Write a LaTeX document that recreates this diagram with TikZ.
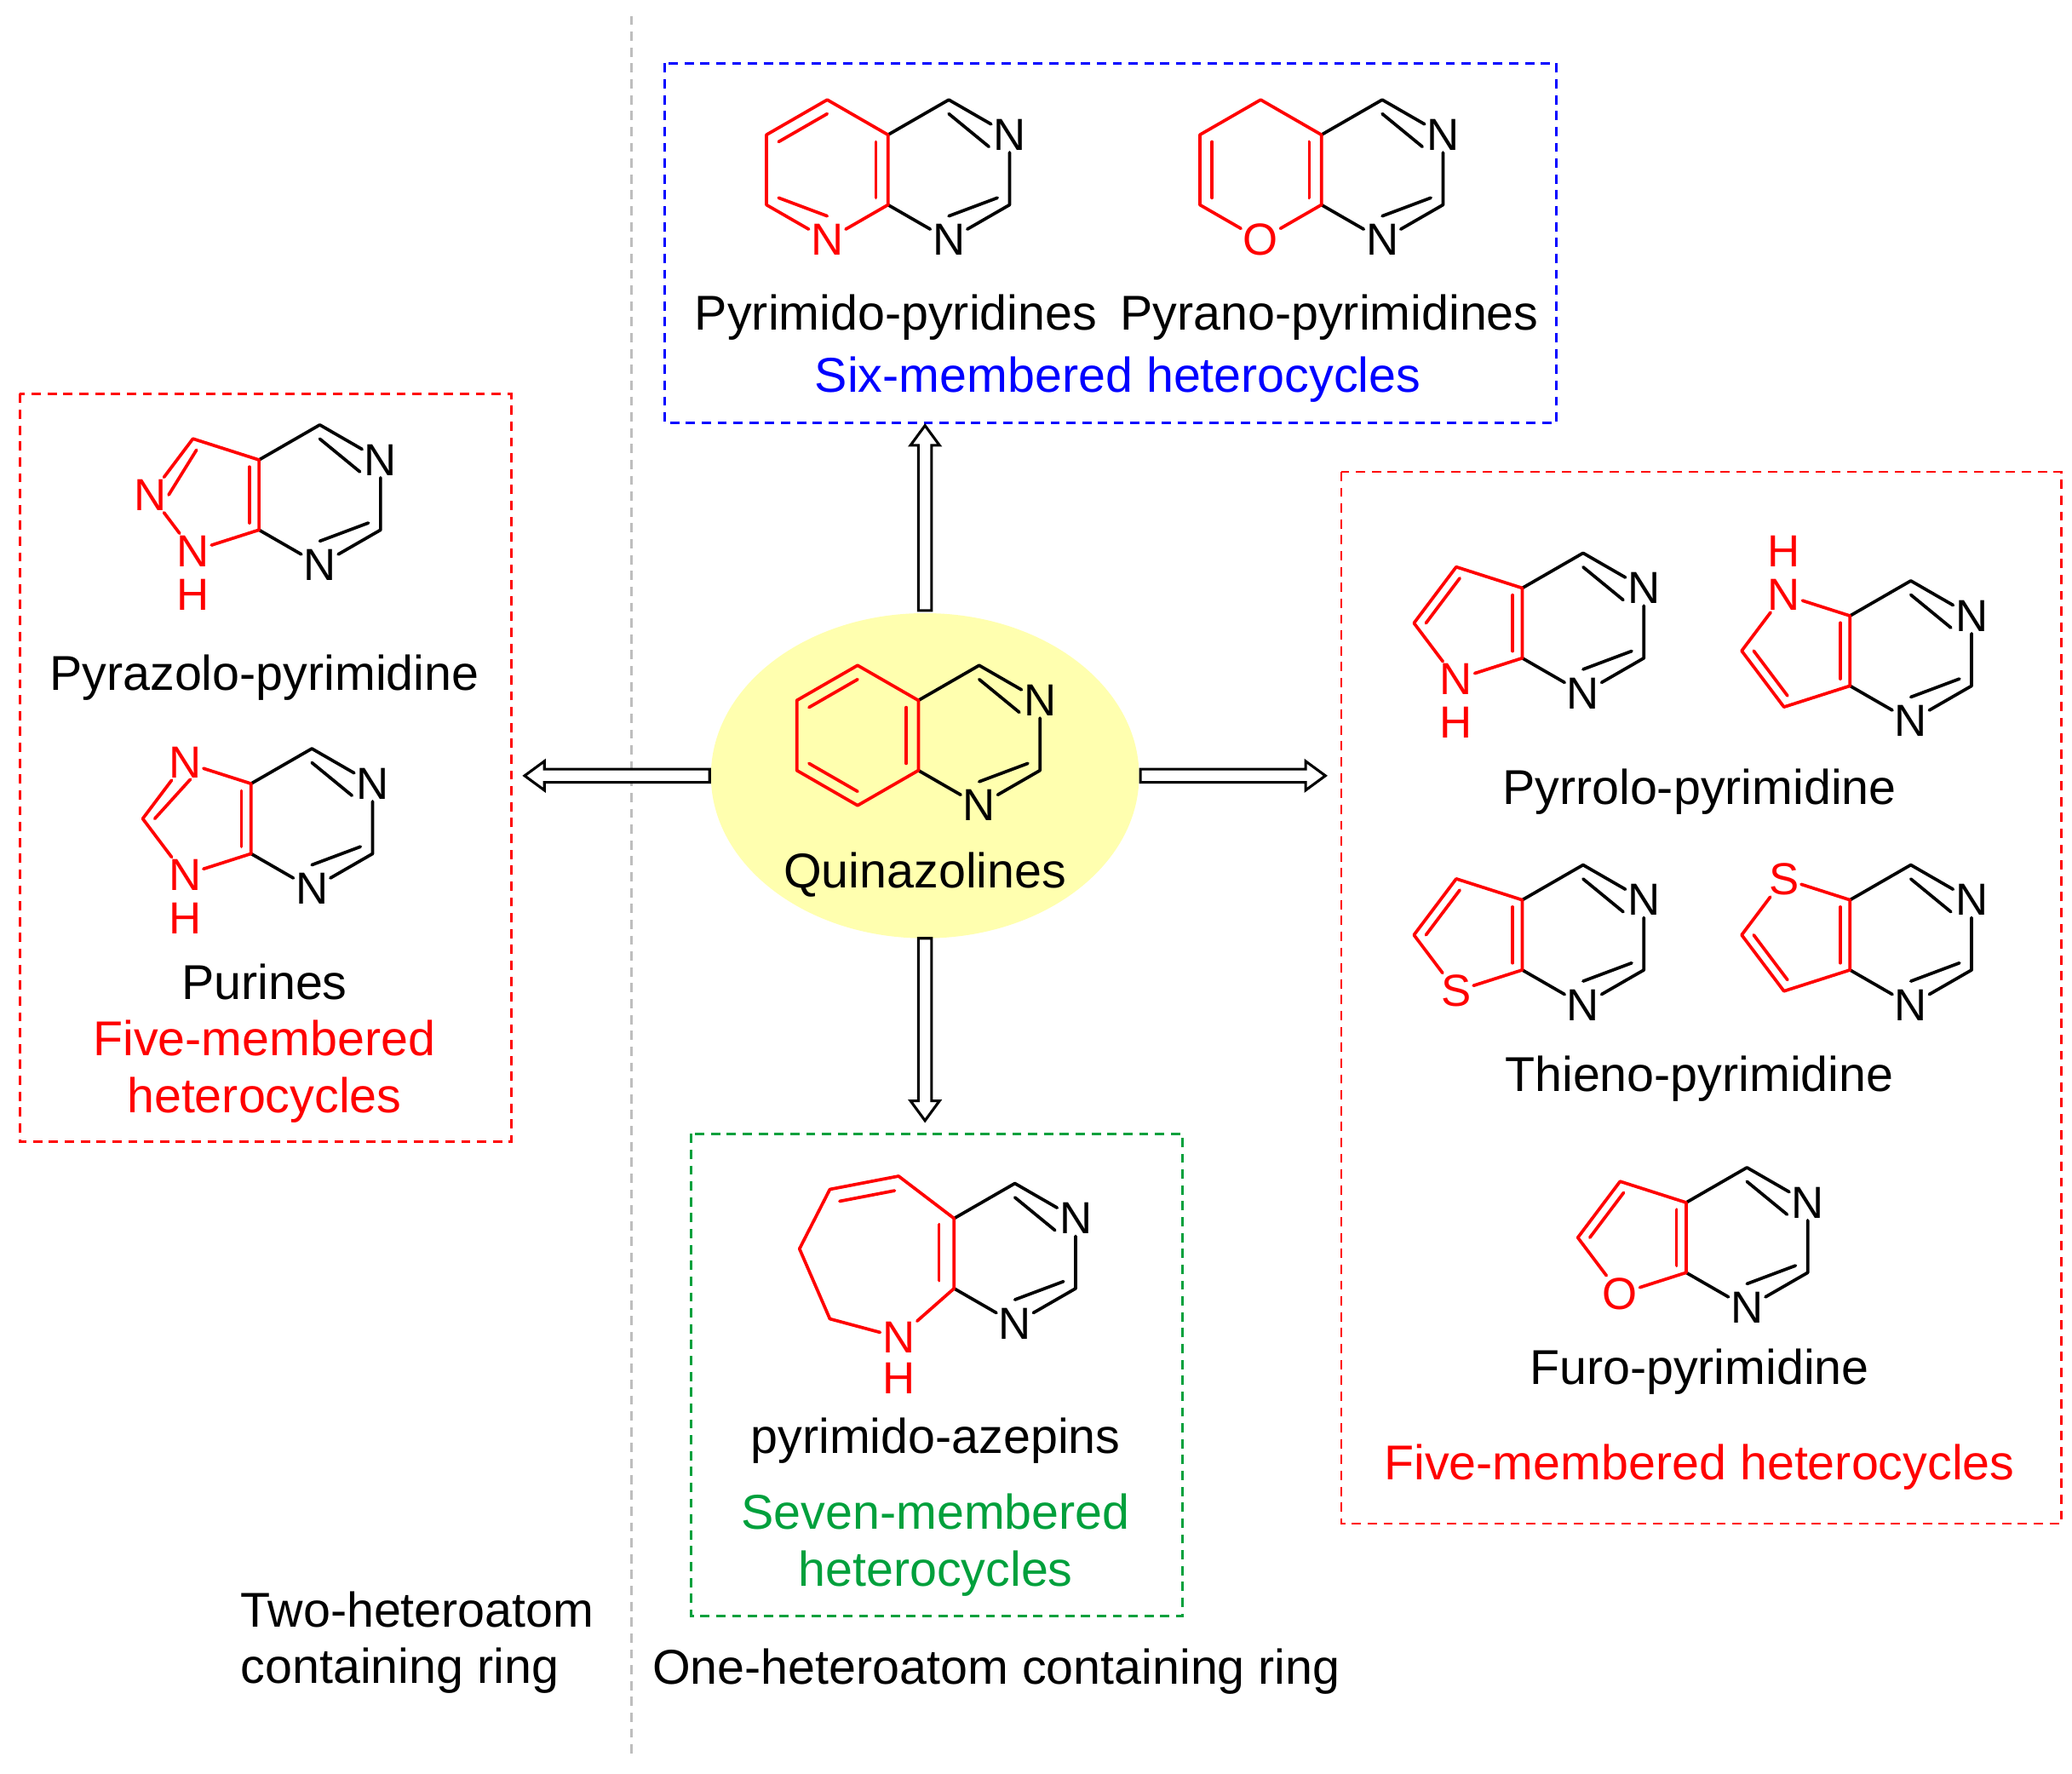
\documentclass[tikz,border=0pt]{standalone}
\usepackage{fontspec}
\setmainfont{Liberation Sans}
\usetikzlibrary{calc}
\definecolor{myblue}{RGB}{0,0,255}
\definecolor{mygreen}{RGB}{0,160,60}
\definecolor{myyellow}{RGB}{255,255,175}
\definecolor{mygray}{RGB}{190,190,190}
\newcommand\dbl[6]{\draw[bond,#1] ($(#2.center)!#5!(#4)$)--($(#3.center)!#6!(#4)$);}
\newcommand\atm[3]{\if\relax\detokenize{#3}\relax \coordinate (#1) at (#2); \else \node[atom,red] (#1) at (#2) {#3}; \fi}
\newcommand\pyr[3]{%
 \coordinate (#1a) at (#2,#3);
 \coordinate (#1b) at (#2+46,#3-26.5);
 \node[atom] (#1c) at (#2+92,#3) {N};
 \coordinate (#1d) at (#2+92,#3+53);
 \node[atom] (#1e) at (#2+46,#3+79.5) {N};
 \coordinate (#1f) at (#2,#3+53);
 \coordinate (#1o) at (#2+46,#3+26.5);
 \draw[bond] (#1a)--(#1b)--(#1c)--(#1d)--(#1e)--(#1f);
 \dbl{}{#1b}{#1c}{#1o}{.2}{.34}
 \dbl{}{#1d}{#1e}{#1o}{.2}{.34}}
\newcommand\five[4]{%
 \atm{#1p}{$(#1a)+(-50,-16)$}{#2}
 \atm{#1q}{$(#1a)+(-82,26.5)$}{#3}
 \atm{#1r}{$(#1a)+(-50,69)$}{#4}
 \coordinate (#1m) at ($(#1a)+(-36.5,26.5)$);
 \draw[bond,red] (#1a)--(#1p)--(#1q)--(#1r)--(#1f)--(#1a);
 \dbl{red}{#1a}{#1f}{#1m}{.2}{.2}}
\newcommand\harrow[4]{\begin{scope}[shift={(#1,#2)},rotate=#3]
 \draw[line width=2pt,fill=white,line join=miter] (0,-5)--(#4-15,-5)--(#4-15,-11)--(#4,0)--(#4-15,11)--(#4-15,5)--(0,5)--cycle;
 \end{scope}}
\begin{document}
\begin{tikzpicture}[x=1pt,y=-1pt,
 bond/.style={line width=2.4pt,line cap=round,line join=round},
 atom/.style={inner sep=1.5pt,font=\fontsize{34}{34}\selectfont},
 lab/.style={inner sep=0pt,font=\fontsize{37}{43}\selectfont},
 box/.style={line width=1.8pt,dash pattern=on 7pt off 5pt}]
\useasboundingbox (0,0) rectangle (1568,1342);
\draw[mygray,line width=1.8pt,dash pattern=on 7pt off 5pt] (478,12)--(478,1330);
% boxes
\draw[box,myblue] (503,48) rectangle (1178,320);
\draw[box,red] (15,298) rectangle (387,864);
\draw[box,red] (1015,357) rectangle (1560,1153);
\draw[box,mygreen] (523,858) rectangle (895,1223);
% ellipse
\fill[myyellow] (700,587) ellipse [x radius=162,y radius=123];
% arrows
\harrow{700}{462}{90}{140}
\harrow{537}{587}{180}{140}
\harrow{863}{587}{0}{140}
\harrow{700}{710}{-90}{138}
% quinazoline
\pyr{q}{695}{530}
\coordinate (qj) at ($(qa)+(-46,-26.5)$);
\coordinate (qi) at ($(qa)+(-92,0)$);
\coordinate (qh) at ($(qa)+(-92,53)$);
\coordinate (qg) at ($(qa)+(-46,79.5)$);
\coordinate (qk) at ($(qa)+(-46,26.5)$);
\draw[bond,red] (qa)--(qj)--(qi)--(qh)--(qg)--(qf)--cycle;
\dbl{red}{qa}{qf}{qk}{.2}{.2}
\dbl{red}{qg}{qh}{qk}{.2}{.2}
\dbl{red}{qi}{qj}{qk}{.2}{.2}
% pyrido-pyrimidine
\pyr{a}{672}{102}
\coordinate (aj) at ($(aa)+(-46,-26.5)$);
\coordinate (ai) at ($(aa)+(-92,0)$);
\coordinate (ah) at ($(aa)+(-92,53)$);
\node[atom,red] (ag) at ($(aa)+(-46,79.5)$) {N};
\coordinate (ak) at ($(aa)+(-46,26.5)$);
\draw[bond,red] (aa)--(aj)--(ai)--(ah)--(ag)--(af)--(aa);
\dbl{red}{aa}{af}{ak}{.2}{.2}
\dbl{red}{ag}{ah}{ak}{.34}{.2}
\dbl{red}{ai}{aj}{ak}{.2}{.2}
% pyrano-pyrimidine
\pyr{b}{1000}{102}
\coordinate (bj) at ($(ba)+(-46,-26.5)$);
\coordinate (bi) at ($(ba)+(-92,0)$);
\coordinate (bh) at ($(ba)+(-92,53)$);
\node[atom,red] (bg) at ($(ba)+(-46,79.5)$) {O};
\coordinate (bk) at ($(ba)+(-46,26.5)$);
\draw[bond,red] (ba)--(bj)--(bi)--(bh)--(bg)--(bf)--(ba);
\dbl{red}{ba}{bf}{bk}{.2}{.2}
\dbl{red}{bh}{bi}{bk}{.2}{.2}
% pyrazolo
\pyr{z}{196}{348}
\five{z}{}{N}{N}
\node[atom,red] (zh) at ($(zr)+(0,33)$) {H};
\dbl{red}{zp}{zq}{zm}{.2}{.3}
% purine
\pyr{u}{190}{593}
\five{u}{N}{}{N}
\node[atom,red] (uh) at ($(ur)+(0,33)$) {H};
\dbl{red}{up}{uq}{um}{.3}{.2}
% pyrrolo 1
\pyr{r}{1152}{445}
\five{r}{}{}{N}
\node[atom,red] (rh) at ($(rr)+(0,33)$) {H};
\dbl{red}{rp}{rq}{rm}{.2}{.2}
% pyrrolo 2
\pyr{s}{1400}{466}
\five{s}{N}{}{}
\node[atom,red] (sh) at ($(sp)+(0,-33)$) {H};
\dbl{red}{sq}{sr}{sm}{.2}{.2}
% thieno 1
\pyr{t}{1152}{681}
\five{t}{}{}{S}
\dbl{red}{tp}{tq}{tm}{.2}{.2}
% thieno 2
\pyr{v}{1400}{681}
\five{v}{S}{}{}
\dbl{red}{vq}{vr}{vm}{.2}{.2}
% furo
\pyr{w}{1276}{910}
\five{w}{}{}{O}
\dbl{red}{wp}{wq}{wm}{.2}{.2}
% azepine
\pyr{e}{722}{922}
\node[atom,red] (en) at (680,1012) {N};
\node[atom,red] (enh) at (680,1043) {H};
\coordinate (e1) at (628,998);
\coordinate (e2) at (605,945);
\coordinate (e3) at (628,900);
\coordinate (e4) at (680,890);
\coordinate (ek) at (665,945);
\draw[bond,red] (ea)--(e4)--(e3)--(e2)--(e1)--(en)--(ef)--(ea);
\dbl{red}{ea}{ef}{ek}{.2}{.2}
\dbl{red}{e3}{e4}{ek}{.2}{.2}
% labels
\node[lab] (l1) at (678,240) {Pyrimido-pyridines};
\node[lab] (l2) at (1006,240) {Pyrano-pyrimidines};
\node[lab,text=myblue] (l3) at (846,287) {Six-membered heterocycles};
\node[lab] (l4) at (200,513) {Pyrazolo-pyrimidine};
\node[lab] (l5) at (200,743) {Purines};
\node[lab,text=red,align=center] (l6) at (200,811) {Five-membered\\heterocycles};
\node[lab] (l7) at (700,662) {Quinazolines};
\node[lab] (l8) at (1286,599) {Pyrrolo-pyrimidine};
\node[lab] (l9) at (1286,816) {Thieno-pyrimidine};
\node[lab] (l10) at (1286,1038) {Furo-pyrimidine};
\node[lab,text=red] (l11) at (1286,1110) {Five-membered heterocycles};
\node[lab] (l12) at (708,1090) {pyrimido-azepins};
\node[lab,text=mygreen,align=center] (l13) at (708,1169) {Seven-membered\\heterocycles};
\node[lab,align=left,anchor=west] (l14) at (182,1243) {Two-heteroatom\\containing ring};
\node[lab] (l15) at (754,1265) {One-heteroatom containing ring};
\end{tikzpicture}
\end{document}
